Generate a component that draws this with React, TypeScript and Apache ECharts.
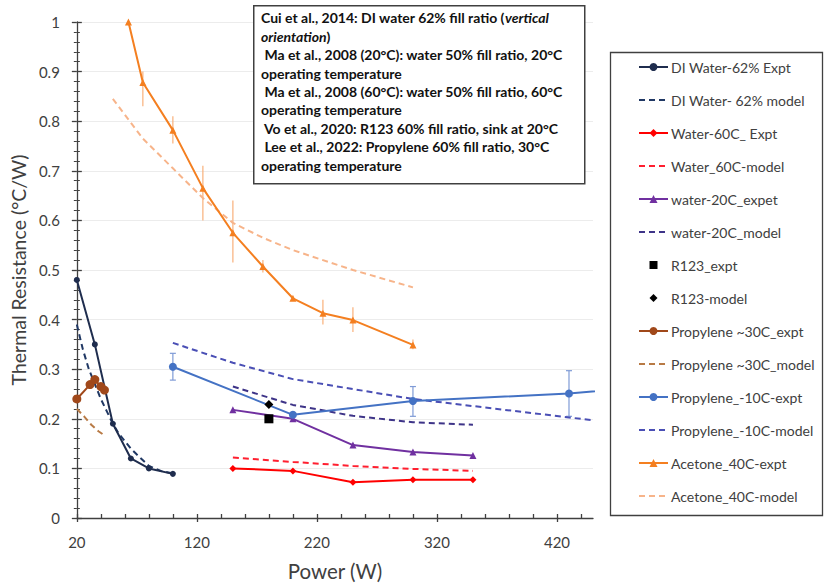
import React, { useEffect, useRef } from "react";
import * as echarts from "echarts";

const FONT = 'Lato, "Open Sans", "Liberation Sans", sans-serif';

// ---------- data ----------
const diWaterExpt = [[20, 0.48], [35, 0.35], [50, 0.19], [65, 0.12], [80, 0.1], [100, 0.089]];
const diWaterModel = [[20, 0.39], [25, 0.34], [30, 0.3], [35, 0.27], [40, 0.24], [45, 0.215], [50, 0.19], [55, 0.17], [60, 0.155], [65, 0.14], [70, 0.128], [80, 0.105], [90, 0.095], [100, 0.09]];
const water60Expt = [[150, 0.1], [200, 0.095], [250, 0.072], [300, 0.077], [350, 0.077]];
const water60Model = [[150, 0.122], [200, 0.113], [250, 0.105], [300, 0.099], [350, 0.095]];
const water20Expt = [[150, 0.218], [200, 0.2], [250, 0.147], [300, 0.133], [350, 0.126]];
const water20Model = [[150, 0.265], [200, 0.228], [250, 0.206], [300, 0.193], [350, 0.188]];
const r123Expt = [[180, 0.2]];
const r123Model = [[180, 0.229]];
const prop30Expt = [[20, 0.24], [31, 0.269], [35, 0.279], [40, 0.265], [43, 0.258]];
const prop30Model = [[20, 0.22], [26, 0.205], [32, 0.188], [38, 0.175], [44, 0.165]];
const propM10Expt = [[100, 0.305], [200, 0.208], [300, 0.236], [430, 0.251], [500, 0.265]];
const propM10Err = [[100, 0.278, 0.332], [300, 0.205, 0.265], [430, 0.205, 0.297]];
const propM10Model = [[100, 0.353], [150, 0.313], [200, 0.28], [300, 0.24], [450, 0.197]];
const acetoneExpt = [[63, 1.0], [75, 0.878], [100, 0.782], [125, 0.665], [150, 0.575], [175, 0.507], [200, 0.443], [225, 0.413], [250, 0.399], [300, 0.349]];
const acetoneErr = [[75, 0.83, 0.9], [100, 0.755, 0.81], [125, 0.6, 0.71], [150, 0.515, 0.64], [175, 0.495, 0.52], [225, 0.39, 0.44], [250, 0.375, 0.425], [300, 0.34, 0.36]];
const acetoneModel = [[50, 0.845], [75, 0.765], [100, 0.705], [125, 0.645], [150, 0.595], [175, 0.565], [200, 0.54], [250, 0.5], [300, 0.465]];

const xMajorTicks = [20, 120, 220, 320, 420];
const xAllTicks = [20, 40, 60, 80, 100, 120, 140, 160, 180, 200, 220, 240, 260, 280, 300, 320, 340, 360, 380, 400, 420, 440];

const legendNames = [
  "DI Water-62% Expt",
  "DI Water- 62% model",
  "Water-60C_ Expt",
  "Water_60C-model",
  "water-20C_expet",
  "water-20C_model",
  "R123_expt",
  "R123-model",
  "Propylene ~30C_expt",
  "Propylene ~30C_model",
  "Propylene_-10C-expt",
  "Propylene_-10C-model",
  "Acetone_40C-expt",
  "Acetone_40C-model",
];

const AXIS = "#404040";
const DASH = [6, 4];
const CLEAR = "rgba(0,0,0,0)";

function expt(name: string, data: number[][], color: string, symbol: string, size: number, z = 3) {
  return {
    name,
    type: "line",
    data,
    symbol,
    symbolSize: size,
    showSymbol: true,
    clip: true,
    z,
    lineStyle: { color, width: 2 },
    itemStyle: { color },
  };
}

function model(name: string, data: number[][], color: string, z = 2) {
  return {
    name,
    type: "line",
    data,
    symbol: "none",
    clip: true,
    z,
    lineStyle: { color, width: 2, type: DASH },
    itemStyle: { color: CLEAR, opacity: 0 },
  };
}

function marker(name: string, data: number[][], symbol: string, size: number) {
  return {
    name,
    type: "line",
    data,
    symbol,
    symbolSize: size,
    showSymbol: true,
    z: 5,
    lineStyle: { color: CLEAR, width: 0, opacity: 0 },
    itemStyle: { color: "#000000" },
  };
}

function errBars(name: string, data: number[][], color: string, cap: number) {
  return {
    name,
    type: "custom",
    data,
    z: 1,
    clip: true,
    encode: { x: 0, y: [1, 2] },
    renderItem: (params: any, api: any) => {
      const x = api.value(0);
      const lo = api.coord([x, api.value(1)]);
      const hi = api.coord([x, api.value(2)]);
      const style = { stroke: color, lineWidth: 1.2 };
      const children: any[] = [
        { type: "line", shape: { x1: lo[0], y1: lo[1], x2: hi[0], y2: hi[1] }, style },
      ];
      if (cap > 0) {
        children.push({ type: "line", shape: { x1: lo[0] - cap, y1: lo[1], x2: lo[0] + cap, y2: lo[1] }, style });
        children.push({ type: "line", shape: { x1: hi[0] - cap, y1: hi[1], x2: hi[0] + cap, y2: hi[1] }, style });
      }
      return { type: "group", children };
    },
  };
}

const noteText = [
  "{b|Cui et al., 2014: DI water 62% fill ratio (}{i|vertical}",
  "{i|orientation}{b|)}",
  "{b| Ma et al., 2008 (20°C): water 50% fill ratio, 20°C}",
  "{b|operating temperature}",
  "{b| Ma et al., 2008 (60°C): water 50% fill ratio, 60°C}",
  "{b|operating temperature}",
  "{b| Vo et al., 2020: R123 60% fill ratio, sink at 20°C}",
  "{b| Lee et al., 2022: Propylene 60% fill ratio, 30°C}",
  "{b|operating temperature}",
].join("\n");

export default function App() {
  const ref = useRef<HTMLDivElement>(null);
  useEffect(() => {
    if (!ref.current) return;
    const chart = echarts.init(ref.current, null, { renderer: "svg" });
    const option: any = {
      animation: false,
      backgroundColor: "#ffffff",
      textStyle: { fontFamily: FONT },
      grid: { left: 76, top: 22, width: 517, height: 501, containLabel: false },
      legend: {
        data: legendNames,
        orient: "vertical",
        left: 638,
        top: 60,
        padding: 0,
        itemWidth: 29,
        itemHeight: 10,
        itemGap: 19,
        selectedMode: false,
        textStyle: { fontSize: 14, color: AXIS, fontFamily: FONT, padding: [0, 0, 0, -2] },
      },
      xAxis: [
        {
          type: "value",
          min: 20,
          max: 450,
          interval: 100,
          axisLine: { show: true, lineStyle: { color: AXIS, width: 1.3 } },
          axisTick: { show: true, inside: false, length: 4, customValues: xMajorTicks, lineStyle: { color: AXIS, width: 1.3 } },
          axisLabel: { customValues: xMajorTicks, fontSize: 15, color: AXIS, margin: 16, fontFamily: FONT },
          splitLine: { show: false },
          name: "Power (W)",
          nameLocation: "middle",
          nameGap: 42,
          nameTextStyle: { fontSize: 20.5, color: AXIS, fontFamily: FONT },
        },
        {
          type: "value",
          min: 20,
          max: 450,
          interval: 100,
          position: "bottom",
          offset: 0,
          axisLine: { show: false },
          axisTick: { show: true, inside: true, length: 4, customValues: xAllTicks, lineStyle: { color: AXIS, width: 1.3 } },
          axisLabel: { show: false },
          splitLine: { show: false },
        },
      ],
      yAxis: [
        {
          type: "value",
          min: 0,
          max: 1,
          interval: 0.1,
          axisLine: { show: true, lineStyle: { color: AXIS, width: 1.3 } },
          axisTick: { show: true, inside: false, length: 5, lineStyle: { color: AXIS, width: 1.3 } },
          minorTick: { show: true, splitNumber: 5, length: 3, lineStyle: { color: AXIS, width: 1 } },
          axisLabel: { fontSize: 15, color: AXIS, margin: 17, fontFamily: FONT },
          splitLine: { show: true, lineStyle: { color: "#ececec", width: 1 } },
          name: "Thermal Resistance (°C/W)",
          nameLocation: "middle",
          nameGap: 44,
          nameTextStyle: { fontSize: 19.5, color: AXIS, fontFamily: FONT },
        },
        {
          type: "value",
          min: 0,
          max: 1,
          interval: 0.1,
          position: "left",
          offset: 0,
          axisLine: { show: false },
          axisTick: { show: true, inside: true, length: 5, lineStyle: { color: AXIS, width: 1.3 } },
          minorTick: { show: true, splitNumber: 5, length: 3, lineStyle: { color: AXIS, width: 1 } },
          axisLabel: { show: false },
          splitLine: { show: false },
        },
      ],
      series: [
        errBars("acetoneErr", acetoneErr, "#F9B07A", 0),
        errBars("propM10Err", propM10Err, "#7F9BD6", 3),
        expt("DI Water-62% Expt", diWaterExpt, "#1F2D4E", "circle", 6, 4),
        model("DI Water- 62% model", diWaterModel, "#203864", 3),
        expt("Water-60C_ Expt", water60Expt, "#FF0000", "diamond", 7),
        model("Water_60C-model", water60Model, "#FF1F2F"),
        expt("water-20C_expet", water20Expt, "#7030A0", "triangle", 7),
        model("water-20C_model", water20Model, "#3E3488"),
        marker("R123_expt", r123Expt, "rect", 9),
        marker("R123-model", r123Model, "diamond", 9),
        expt("Propylene ~30C_expt", prop30Expt, "#A0481A", "circle", 9, 4),
        model("Propylene ~30C_model", prop30Model, "#B87A45"),
        expt("Propylene_-10C-expt", propM10Expt, "#4472C4", "circle", 8),
        model("Propylene_-10C-model", propM10Model, "#4A4FB5"),
        expt("Acetone_40C-expt", acetoneExpt, "#F47F20", "triangle", 7, 4),
        model("Acetone_40C-model", acetoneModel, "#F7B48A"),
      ],
      graphic: [
        {
          type: "rect",
          left: 253,
          top: 5,
          shape: { width: 331, height: 178 },
          style: { fill: "#ffffff", stroke: AXIS, lineWidth: 1.5 },
          z: 10,
        },
        {
          type: "text",
          left: 261,
          top: 11,
          z: 11,
          style: {
            text: noteText,
            rich: {
              b: { fontFamily: FONT, fontWeight: "bold", fontSize: 14, lineHeight: 18.4, fill: "#111111" },
              i: { fontFamily: FONT, fontWeight: "bold", fontStyle: "italic", fontSize: 14, lineHeight: 18.4, fill: "#111111" },
            },
          },
        },
        {
          type: "rect",
          left: 608,
          top: 50,
          shape: { width: 212, height: 463 },
          style: { fill: "none", stroke: AXIS, lineWidth: 1.3 },
          z: 10,
        },
      ],
    };
    chart.setOption(option);
    return () => chart.dispose();
  }, []);
  return (
    <div
      ref={ref}
      style={{ position: "fixed", left: 0, top: 0, width: 833, height: 586, background: "#fff" }}
    />
  );
}
